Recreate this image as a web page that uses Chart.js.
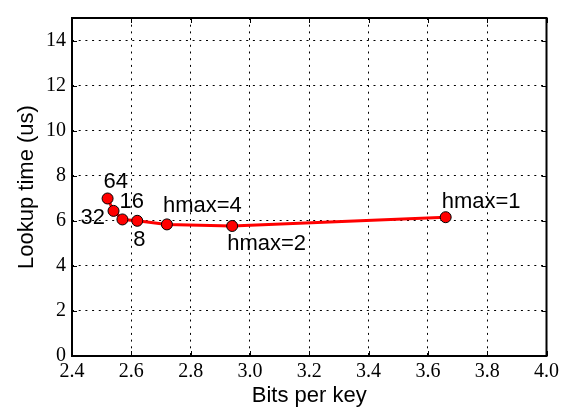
<!DOCTYPE html>
<html>
<head>
<meta charset="utf-8">
<script src="https://cdn.jsdelivr.net/npm/chart.js@4/dist/chart.umd.min.js"></script>
<style>
  html, body { margin: 0; padding: 0; background: #fff; }
  #wrap { width: 563px; height: 411px; }
</style>
</head>
<body>
<div id="wrap"><canvas id="lookupChart" width="563" height="411"></canvas></div>
<script>
// valores
const bitsPerKey = [2.52, 2.54, 2.57, 2.62, 2.72, 2.94, 3.66];
const lookupTime = [6.99, 6.44, 6.06, 6.00, 5.84, 5.77, 6.16];
const pointLabels = ['64', '32', '16', '8', 'hmax=4', 'hmax=2', 'hmax=1'];
const xTicks = [2.4, 2.6, 2.8, 3.0, 3.2, 3.4, 3.6, 3.8, 4.0];
const yTicks = [0, 2, 4, 6, 8, 10, 12, 14];
const xTitle = 'Bits per key';
const yTitle = 'Lookup time (us)';

// posição do rótulo em relação ao ponto (início do texto, linha de base)
const labelOffsets = [
    { dx: -4, dy: -10 },
    { dx: -33, dy: 13 },
    { dx: -3, dy: -11 },
    { dx: -4, dy: 25 },
    { dx: -4, dy: -12 },
    { dx: -5, dy: 24 },
    { dx: -4, dy: -9 }
];

const serif = "'Liberation Serif', 'DejaVu Serif', serif";
const sans = "'Liberation Sans', Arial, sans-serif";

// rótulos dos pontos, títulos, moldura e marcas internas
const extras = {
    id: 'extras',
    afterDatasetsDraw(chart) {
        const ctx = chart.ctx;
        const meta = chart.getDatasetMeta(0);
        ctx.save();
        ctx.fillStyle = '#000';
        ctx.font = '22px ' + sans;
        ctx.textAlign = 'left';
        ctx.textBaseline = 'alphabetic';
        meta.data.forEach((pt, i) => {
            const off = labelOffsets[i];
            ctx.fillText(pointLabels[i], pt.x + off.dx, pt.y + off.dy);
        });
        ctx.restore();
    },
    afterDraw(chart) {
        const ctx = chart.ctx;
        const a = chart.chartArea;
        const xs = chart.scales.x;
        const ys = chart.scales.y;
        ctx.save();
        ctx.strokeStyle = '#000';
        ctx.lineWidth = 1;
        ctx.beginPath();
        xTicks.forEach(v => {
            const px = Math.round(xs.getPixelForValue(v)) + 0.5;
            ctx.moveTo(px, a.bottom); ctx.lineTo(px, a.bottom - 5);
            ctx.moveTo(px, a.top); ctx.lineTo(px, a.top + 5);
        });
        yTicks.forEach(v => {
            const py = Math.round(ys.getPixelForValue(v)) + 0.5;
            ctx.moveTo(a.left, py); ctx.lineTo(a.left + 5, py);
            ctx.moveTo(a.right, py); ctx.lineTo(a.right - 5, py);
        });
        ctx.stroke();
        ctx.lineWidth = 2;
        ctx.strokeRect(a.left, a.top, a.right - a.left, a.bottom - a.top);

        // títulos dos eixos
        ctx.fillStyle = '#000';
        ctx.font = '22px ' + sans;
        ctx.textAlign = 'center';
        ctx.textBaseline = 'alphabetic';
        ctx.fillText(xTitle, (a.left + a.right) / 2, 402);
        ctx.translate(33, (a.top + a.bottom) / 2);
        ctx.rotate(-Math.PI / 2);
        ctx.fillText(yTitle, 0, 0);
        ctx.restore();
    }
};

const canvas = document.getElementById('lookupChart');
const ctx = canvas.getContext('2d');

new Chart(ctx, {
    type: 'scatter',
    data: {
        datasets: [{
            data: bitsPerKey.map((x, i) => ({ x: x, y: lookupTime[i] })),
            showLine: true,
            borderColor: '#ff0000',
            borderWidth: 3,
            pointBackgroundColor: '#ff0000',
            pointBorderColor: '#000',
            pointBorderWidth: 1,
            pointRadius: 5.5
        }]
    },
    options: {
        responsive: false,
        animation: false,
        layout: { padding: { top: 8, right: 16, left: 0, bottom: 0 } },
        plugins: {
            legend: { display: false },
            tooltip: { enabled: false }
        },
        scales: {
            x: {
                type: 'linear',
                min: 2.4,
                max: 4.0,
                afterBuildTicks: s => { s.ticks = xTicks.map(v => ({ value: v })); },
                afterFit: s => { s.height = 55; },
                grid: { color: '#000', lineWidth: 1, drawTicks: false },
                border: { display: false, dash: [2, 4.7] },
                ticks: {
                    color: '#000',
                    padding: 4,
                    maxRotation: 0,
                    font: { family: serif, size: 20 },
                    callback: v => Number(v).toFixed(1)
                }
            },
            y: {
                type: 'linear',
                min: 0,
                max: 15,
                afterBuildTicks: s => { s.ticks = yTicks.map(v => ({ value: v })); },
                afterFit: s => { s.width = 72; },
                grid: { color: '#000', lineWidth: 1, drawTicks: false },
                border: { display: false, dash: [2, 4.7] },
                ticks: {
                    color: '#000',
                    padding: 6,
                    font: { family: serif, size: 20 },
                    callback: v => String(v)
                }
            }
        }
    },
    plugins: [extras]
});
</script>
</body>
</html>
